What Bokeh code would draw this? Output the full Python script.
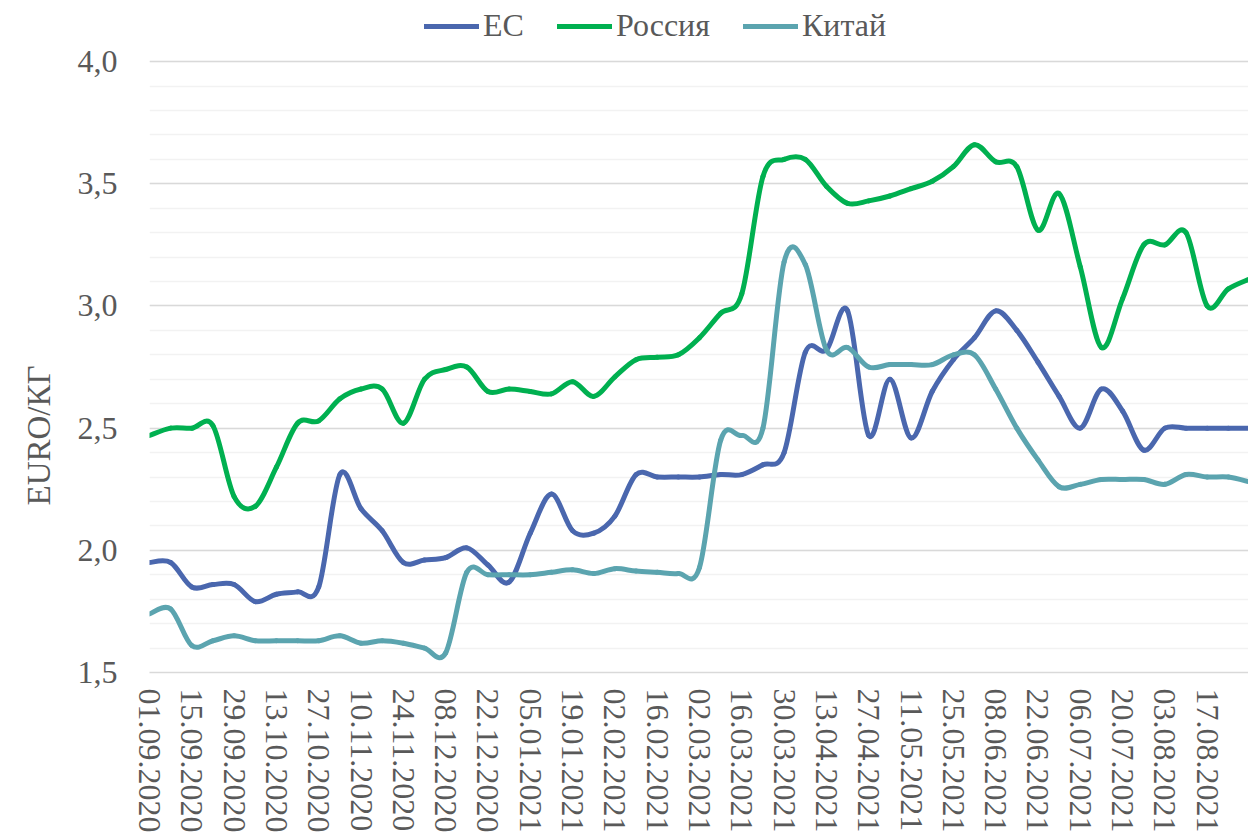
from bokeh.plotting import figure
from bokeh.models import Range1d, FixedTicker, Legend, LegendItem, ColumnDataSource, Title
from bokeh.embed import file_html
from bokeh.resources import INLINE

# ---- data (weekly observations, week index 0 = 01.09.2020) ----
weeks = list(range(53))
tick_weeks = list(range(0, 52, 2))
tick_labels = ["01.09.2020", "15.09.2020", "29.09.2020", "13.10.2020", "27.10.2020",
               "10.11.2020", "24.11.2020", "08.12.2020", "22.12.2020", "05.01.2021",
               "19.01.2021", "02.02.2021", "16.02.2021", "02.03.2021", "16.03.2021",
               "30.03.2021", "13.04.2021", "27.04.2021", "11.05.2021", "25.05.2021",
               "08.06.2021", "22.06.2021", "06.07.2021", "20.07.2021", "03.08.2021",
               "17.08.2021"]

ec = [1.95, 1.95, 1.85, 1.86, 1.86, 1.79, 1.82, 1.83, 1.85, 2.31,
      2.17, 2.08, 1.95, 1.96, 1.97, 2.01, 1.94, 1.87, 2.07, 2.23,
      2.08, 2.07, 2.14, 2.31, 2.30, 2.30, 2.30, 2.31, 2.31, 2.35,
      2.40, 2.81, 2.82, 2.98, 2.47, 2.70, 2.46, 2.65, 2.78, 2.87,
      2.98, 2.90, 2.77, 2.63, 2.50, 2.66, 2.57, 2.41, 2.50, 2.50,
      2.50, 2.50, 2.50]

russia = [2.47, 2.50, 2.50, 2.51, 2.22, 2.18, 2.34, 2.52, 2.53, 2.62,
          2.66, 2.66, 2.52, 2.70, 2.74, 2.75, 2.65, 2.66, 2.65, 2.64,
          2.69, 2.63, 2.71, 2.78, 2.79, 2.80, 2.87, 2.97, 3.05, 3.53,
          3.60, 3.60, 3.49, 3.42, 3.43, 3.45, 3.48, 3.51, 3.57, 3.66,
          3.59, 3.57, 3.31, 3.46, 3.16, 2.83, 3.03, 3.25, 3.25, 3.30,
          3.00, 3.07, 3.11]

china = [1.74, 1.76, 1.61, 1.63, 1.65, 1.63, 1.63, 1.63, 1.63, 1.65,
         1.62, 1.63, 1.62, 1.60, 1.58, 1.91, 1.90, 1.90, 1.90, 1.91,
         1.92, 1.905, 1.925, 1.915, 1.91, 1.905, 1.93, 2.45, 2.47, 2.50,
         3.18, 3.17, 2.82, 2.83, 2.75, 2.76, 2.76, 2.76, 2.80, 2.80,
         2.66, 2.50, 2.37, 2.26, 2.27, 2.29, 2.29, 2.29, 2.27, 2.31,
         2.30, 2.30, 2.28]

series_names = ["ЕС", "Россия", "Китай"]
series_colors = ["#4A67AE", "#00B050", "#5BA4AF"]

FONT = "Liberation Serif"
TXT = "#595959"


def smooth_segments(xs, ys):
    """Cubic Bezier segments through the data points (Excel-style smoothed line)."""
    n = len(xs)
    d = {k: [] for k in ("x0", "y0", "x1", "y1", "cx0", "cy0", "cx1", "cy1")}
    for i in range(n - 1):
        pm = max(i - 1, 0)
        pp = min(i + 2, n - 1)
        d["x0"].append(xs[i]); d["y0"].append(ys[i])
        d["x1"].append(xs[i + 1]); d["y1"].append(ys[i + 1])
        d["cx0"].append(xs[i] + (xs[i + 1] - xs[pm]) / 6.0)
        d["cy0"].append(ys[i] + (ys[i + 1] - ys[pm]) / 6.0)
        d["cx1"].append(xs[i + 1] - (xs[pp] - xs[i]) / 6.0)
        d["cy1"].append(ys[i + 1] - (ys[pp] - ys[i]) / 6.0)
    return d


# frame covers the legend strip above the 4,0 line as well
p = figure(frame_width=1100, frame_height=672,
           x_range=Range1d(0, 52), y_range=Range1d(1.5, 4.25),
           output_backend="svg", toolbar_location=None,
           min_border_left=148, min_border_right=0, min_border_top=0,
           min_border_bottom=10)
p.outline_line_color = None
p.background_fill_color = "white"

# y axis
yt = [1.5, 2.0, 2.5, 3.0, 3.5, 4.0]
p.yaxis.ticker = FixedTicker(ticks=yt, minor_ticks=[round(1.5 + 0.1 * k, 1) for k in range(26)])
p.yaxis.major_label_overrides = {v: f"{v:.1f}".replace(".", ",") for v in yt}
p.yaxis.axis_line_color = None
p.yaxis.major_tick_line_color = None
p.yaxis.minor_tick_line_color = None
p.yaxis.major_tick_out = 0
p.yaxis.major_label_standoff = 28
p.yaxis.major_label_text_font = FONT
p.yaxis.major_label_text_font_size = "32px"
p.yaxis.major_label_text_color = TXT

# y axis title (placed lower than centre, as in the reference)
ytitle = Title(text="EURO/КГ", align="left", offset=167, standoff=36,
               text_font=FONT, text_font_size="33px", text_font_style="normal",
               text_color=TXT)
p.add_layout(ytitle, "left")

# x axis
p.xaxis.ticker = FixedTicker(ticks=tick_weeks)
p.xaxis.major_label_overrides = {w: lab for w, lab in zip(tick_weeks, tick_labels)}
p.xaxis.major_label_orientation = "vertical"
p.xaxis.axis_line_color = "#D9D9D9"
p.xaxis.axis_line_width = 1.5
p.xaxis.major_tick_line_color = None
p.xaxis.minor_tick_line_color = None
p.xaxis.major_tick_out = 0
p.xaxis.major_label_standoff = 16
p.xaxis.major_label_text_font = FONT
p.xaxis.major_label_text_font_size = "32px"
p.xaxis.major_label_text_color = TXT

# grid
p.xgrid.grid_line_color = None
p.ygrid.grid_line_color = "#D9D9D9"
p.ygrid.grid_line_width = 1.5
p.ygrid.minor_grid_line_color = "#F2F2F2"
p.ygrid.minor_grid_line_width = 1.5

items = []
for name, vals, col in zip(series_names, [ec, russia, china], series_colors):
    src = ColumnDataSource(smooth_segments(weeks, vals))
    r = p.bezier(x0="x0", y0="y0", x1="x1", y1="y1", cx0="cx0", cy0="cy0",
                 cx1="cx1", cy1="cy1", source=src, line_color=col, line_width=5,
                 line_cap="round", line_join="round")
    items.append(LegendItem(label=name, renderers=[r]))

legend = Legend(items=items, orientation="horizontal", location=(275, 628),
                label_text_font=FONT, label_text_font_size="32px",
                label_text_color=TXT, glyph_width=55, glyph_height=30,
                label_standoff=4, spacing=33, padding=0, margin=0,
                border_line_color=None, background_fill_alpha=0)
p.add_layout(legend, "center")

open("out.html", "w").write(file_html(p, INLINE))
